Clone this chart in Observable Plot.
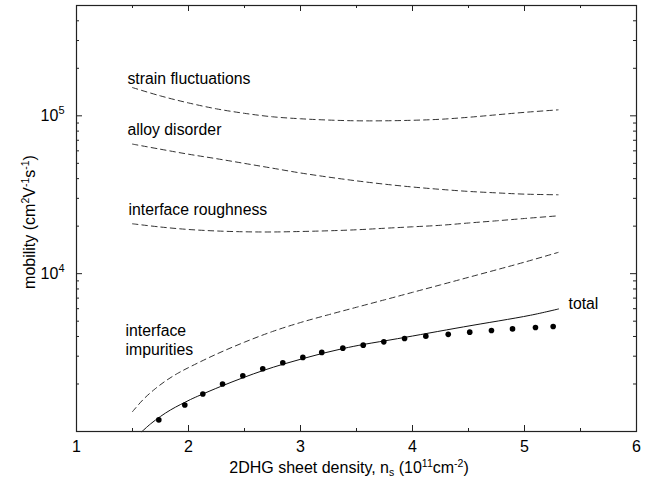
<!DOCTYPE html>
<html><head><meta charset="utf-8">
<script src="https://cdn.jsdelivr.net/npm/d3@7"></script>
<script src="https://cdn.jsdelivr.net/npm/@observablehq/plot@0.6"></script>
<style>
body{margin:0;background:#fff;}
svg{font-family:"Liberation Sans",Arial,Helvetica,sans-serif;}
</style>
</head><body><div id="chart"></div>
<script>
// ---- data ----
const ns = [1.5,1.75,2,2.25,2.5,2.75,3,3.25,3.5,3.75,4,4.25,4.5,4.75,5,5.3];
const strain = [151000,133700,120700,110700,103700,98600,95800,94000,93000,93000,93700,95100,97900,101500,105200,109100];
const alloy = [66200,61430,57120,53510,49950,46590,43450,40900,38730,36900,35400,34200,33200,32500,31900,31600];
const roughness = [20700,19750,19050,18640,18420,18370,18500,18690,18970,19390,19810,20250,20940,21620,22360,23250];

const impX = [1.5,1.6,1.7,1.8,1.9,2.0,2.25,2.5,2.75,3.0,3.25,3.5,3.75,4.0,4.25,4.5,4.75,5.0,5.3];
const impurities = [1336,1607,1858,2102,2328,2540,3092,3681,4301,4903,5492,6125,6826,7613,8492,9478,10580,11830,13630];

const totalX = [1.585,1.661,1.75,1.839,1.929,2.018,2.107,2.286,2.491,2.670,2.848,3.027,3.205,3.384,3.563,3.866,4.455,5.054,5.304];
const totalY = [1000,1117,1246,1369,1483,1595,1703,1927,2197,2439,2673,2904,3137,3359,3560,3873,4600,5453,5976];

const expX = [1.735,1.967,2.128,2.304,2.485,2.663,2.842,3.021,3.19,3.378,3.56,3.744,3.929,4.119,4.319,4.511,4.705,4.893,5.098,5.256];
const expY = [1184,1472,1728,1999,2255,2497,2724,2947,3170,3374,3525,3698,3886,4018,4125,4259,4364,4467,4559,4627];

const labelText = ["strain fluctuations","alloy disorder","interface roughness","interface\nimpurities","total"];
const labelX = [1.455,1.455,1.464,1.438,5.393];
const labelY = [174600,82800,25850,3855,6490];

const xTicks = [1,2,3,4,5,6];
const xMinor = [1.5,2.5,3.5,4.5,5.5];
const yTicks = [1e4,1e5];
const yMinor = [];
for (const dec of [1e3,1e4,1e5]) for (let k=2;k<=9;k++){ const v=k*dec; if (v<=5e5) yMinor.push(v); }

// ---- table ----
const dashed = [
  ...ns.map((x,i)=>({series:"strain", x, y:strain[i]})),
  ...ns.map((x,i)=>({series:"alloy", x, y:alloy[i]})),
  ...ns.map((x,i)=>({series:"roughness", x, y:roughness[i]})),
  ...impX.map((x,i)=>({series:"impurities", x, y:impurities[i]}))
];
const total = totalX.map((x,i)=>({x, y:totalY[i]}));
const expt = expX.map((x,i)=>({x, y:expY[i]}));
const labels = labelText.map((t,i)=>({t, x:labelX[i], y:labelY[i]}));

const W=655, H=481, mL=76, mR=19, mT=5, mB=50;
const pw = W-mL-mR, ph = H-mT-mB;
const ink = "#222";

const plot = Plot.plot({
  width: W, height: H,
  marginLeft: mL, marginRight: mR, marginTop: mT, marginBottom: mB,
  style: {fontFamily: '"Liberation Sans", Arial, sans-serif', fontSize: "15px", color: ink, background: "#fff"},
  x: {domain: [1,6]},
  y: {type: "log", domain: [1000, 5e5]},
  marks: [
    Plot.line(dashed, {x:"x", y:"y", z:"series", stroke:"#333", strokeWidth:1, strokeDasharray:"5.5,4", curve:"catmull-rom"}),
    Plot.line(total, {x:"x", y:"y", stroke:"#111", strokeWidth:1, curve:"catmull-rom"}),
    Plot.dot(expt, {x:"x", y:"y", r:2.8, fill:"#000", stroke:"none"}),
    Plot.text(labels, {x:"x", y:"y", text:"t", textAnchor:"start", fill:"#000", fontSize:15.8, lineHeight:1.2}),
    // inward ticks
    Plot.ruleX(xTicks, {x:d=>d, insetTop: ph-6, stroke:ink}),
    Plot.ruleX(xTicks, {x:d=>d, insetBottom: ph-6, stroke:ink}),
    Plot.ruleX(xMinor, {x:d=>d, insetTop: ph-3, stroke:ink}),
    Plot.ruleX(xMinor, {x:d=>d, insetBottom: ph-3, stroke:ink}),
    Plot.ruleY(yTicks, {y:d=>d, insetRight: pw-6, stroke:ink}),
    Plot.ruleY(yTicks, {y:d=>d, insetLeft: pw-6, stroke:ink}),
    Plot.ruleY(yMinor, {y:d=>d, insetRight: pw-3, stroke:ink}),
    Plot.ruleY(yMinor, {y:d=>d, insetLeft: pw-3, stroke:ink}),
    Plot.axisX(xTicks, {tickSize:0, tickPadding:9, fontSize:16, fill:"#000", label:null, tickFormat:d=>String(d)}),
    Plot.axisY(yTicks, {tickSize:0, tickPadding:12, fontSize:16, fill:"#000", label:null, tickFormat:d=>String(Math.round(Math.log10(d)))}),
    Plot.frame({stroke: ink, strokeWidth: 1.2})
  ]
});
document.getElementById("chart").appendChild(plot);

const svg = d3.select(plot);
// y tick labels as 10^n with superscripts
svg.selectAll('g[aria-label="y-axis tick label"] text').each(function(){
  const e = d3.select(this).text();
  const t = d3.select(this).text(null);
  t.append("tspan").text("10");
  t.append("tspan").attr("dy","-7").attr("font-size","11").text(e);
});

function rich(sel, parts){
  let shift = 0;
  for (const [txt, kind] of parts){
    const target = kind==="sup" ? -6 : kind==="sub" ? 3 : 0;
    const ts = sel.append("tspan").attr("dy", target - shift).text(txt);
    if (kind) ts.attr("font-size","10.5");
    shift = target;
  }
}
const xt = svg.append("text").attr("x", 349).attr("y", 473).attr("text-anchor","middle")
  .attr("font-size","16").attr("fill","#000");
rich(xt, [["2DHG sheet density, n"],["s","sub"],[" (10"],["11","sup"],["cm"],["-2","sup"],[")"]]);

const yt = svg.append("text").attr("transform","translate(35,222) rotate(-90)").attr("text-anchor","middle")
  .attr("font-size","16").attr("fill","#000");
rich(yt, [["mobility (cm"],["2","sup"],["V"],["-1","sup"],["s"],["-1","sup"],[")"]]);
</script>
</body></html>
